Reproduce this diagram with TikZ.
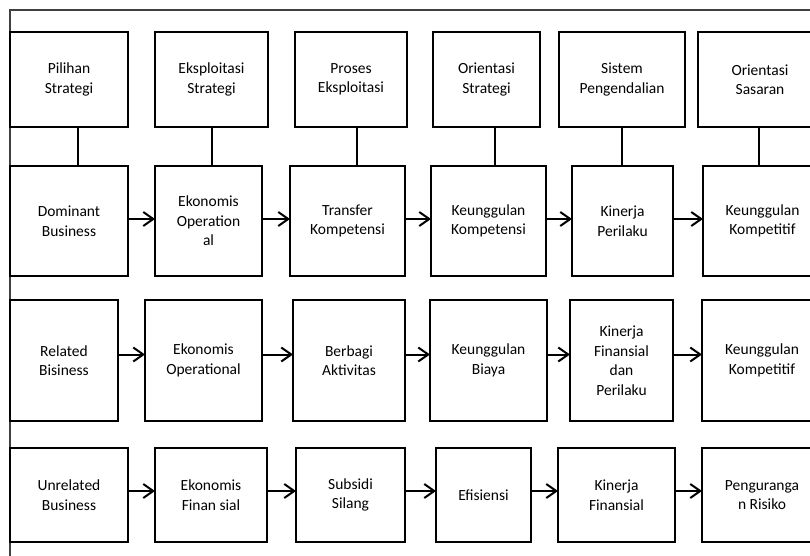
\documentclass[tikz,border=0pt]{standalone}
\usepackage{fontspec}
\setmainfont{Carlito}
\usetikzlibrary{arrows.meta}
\begin{document}
\begin{tikzpicture}[x=1pt,y=-1pt,
  box/.style={draw, line width=2.6pt, rectangle, inner sep=0pt, outer sep=0pt,
    align=center, font=\fontsize{15.5}{19.5}\selectfont},
  link/.style={line width=2pt},
  arr/.style={line width=2pt, -{Straight Barb[length=10pt,width=14pt,line width=2pt]}},
  frame/.style={line width=1.2pt, draw=black!75}]
\useasboundingbox (0,0) rectangle (810,556);
\clip (0,0) rectangle (810,556);
\fill[white] (0,0) rectangle (810,556);

% outer frame lines
\draw[frame] (10,556) -- (10,10) -- (810,10);

% row 1: strategic dimensions
\node[box, minimum width=118pt, minimum height=95pt] (a1) at (69,79.5) {Pilihan\\Strategi};
\node[box, minimum width=113pt, minimum height=95pt] (a2) at (211.5,79.5) {Eksploitasi\\Strategi};
\node[box, minimum width=112pt, minimum height=95pt] (a3) at (351,79.5) {Proses\\Eksploitasi};
\node[box, minimum width=107pt, minimum height=95pt] (a4) at (486.5,79.5) {Orientasi\\Strategi};
\node[box, minimum width=126pt, minimum height=95pt] (a5) at (622,79.5) {Sistem\\Pengendalian};
\node[box, minimum width=124pt, minimum height=95pt] (a6) at (760,79.5) {Orientasi\\Sasaran};

% row 2: dominant business
\node[box, minimum width=118pt, minimum height=110pt] (b1) at (69,221) {Dominant\\Business};
\node[box, minimum width=107pt, minimum height=110pt] (b2) at (208.5,221) {Ekonomis\\Operation\\al};
\node[box, minimum width=115pt, minimum height=110pt] (b3) at (347.5,221) {Transfer\\Kompetensi};
\node[box, minimum width=115pt, minimum height=110pt] (b4) at (488.5,221) {Keunggulan\\Kompetensi};
\node[box, minimum width=101pt, minimum height=110pt] (b5) at (622.5,221) {Kinerja\\Perilaku};
\node[box, minimum width=119pt, minimum height=110pt] (b6) at (762.5,221) {Keunggulan\\Kompetitif};

% row 3: related business
\node[box, minimum width=108pt, minimum height=121pt] (c1) at (64,360.5) {Related\\Bisiness};
\node[box, minimum width=117pt, minimum height=121pt] (c2) at (203.5,360.5) {Ekonomis\\Operational};
\node[box, minimum width=112pt, minimum height=121pt] (c3) at (349,360.5) {Berbagi\\Aktivitas};
\node[box, minimum width=117pt, minimum height=121pt] (c4) at (488.5,360.5) {Keunggulan\\Biaya};
\node[box, minimum width=103pt, minimum height=121pt] (c5) at (621.5,360.5) {Kinerja\\Finansial\\dan\\Perilaku};
\node[box, minimum width=120pt, minimum height=121pt] (c6) at (762,360.5) {Keunggulan\\Kompetitif};

% row 4: unrelated business
\node[box, minimum width=118pt, minimum height=94pt] (d1) at (69,495) {Unrelated\\Business};
\node[box, minimum width=112pt, minimum height=94pt] (d2) at (211,495) {Ekonomis\\Finan sial};
\node[box, minimum width=109pt, minimum height=94pt] (d3) at (350.5,495) {Subsidi\\Silang};
\node[box, minimum width=95pt, minimum height=94pt] (d4) at (483.5,495) {Efisiensi};
\node[box, minimum width=117pt, minimum height=94pt] (d5) at (616.5,495) {Kinerja\\Finansial};
\node[box, minimum width=120pt, minimum height=94pt] (d6) at (762,495) {Penguranga\\n Risiko};

% vertical links between row 1 and row 2
\draw[link] ([xshift=9pt]a1.south) -- ([xshift=9pt]a1.south |- b1.north);
\draw[link] (a2.south) -- (a2.south |- b2.north);
\draw[link] ([xshift=6pt]a3.south) -- ([xshift=6pt]a3.south |- b3.north);
\draw[link] ([xshift=8.5pt]a4.south) -- ([xshift=8.5pt]a4.south |- b4.north);
\draw[link] (a5.south) -- (a5.south |- b5.north);
\draw[link] ([xshift=-1pt]a6.south) -- ([xshift=-1pt]a6.south |- b6.north);

% horizontal arrows, row 2
\foreach \p/\q in {b1/b2,b2/b3,b3/b4,b4/b5,b5/b6}
  \draw[arr] ([yshift=2pt]\p.east) -- ([yshift=2pt]\p.east -| \q.west);
% horizontal arrows, row 3
\foreach \p/\q in {c1/c2,c2/c3,c3/c4,c4/c5,c5/c6}
  \draw[arr] ([yshift=6pt]\p.east) -- ([yshift=6pt]\p.east -| \q.west);
% horizontal arrows, row 4
\foreach \p/\q in {d1/d2,d2/d3,d3/d4,d4/d5,d5/d6}
  \draw[arr] ([yshift=4pt]\p.east) -- ([yshift=4pt]\p.east -| \q.west);
\end{tikzpicture}
\end{document}
